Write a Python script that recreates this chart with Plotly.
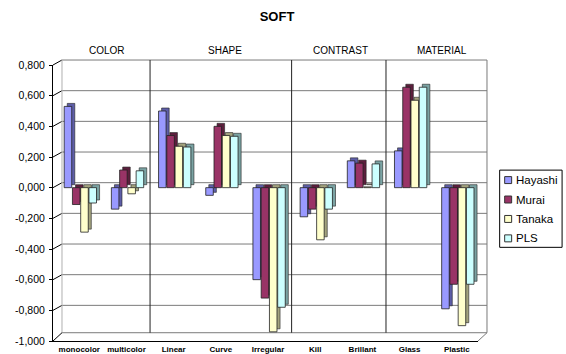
import plotly.graph_objects as go

# Category labels along the x axis and the groups they belong to
categories = ["monocolor", "multicolor", "Linear", "Curve", "Irregular",
              "Kill", "Brillant", "Glass", "Plastic"]
groups = ["COLOR", "SHAPE", "CONTRAST", "MATERIAL"]
group_centers = [0.5, 3.0, 5.5, 7.5]
group_dividers = [1.5, 4.5, 6.5]

# Series values
hayashi = [0.53, -0.14, 0.50, -0.05, -0.60, -0.19, 0.175, 0.24, -0.79]
murai = [-0.11, 0.115, 0.34, 0.40, -0.72, -0.14, 0.16, 0.655, -0.63]
tanaka = [-0.29, -0.04, 0.27, 0.34, -0.94, -0.34, 0.005, 0.57, -0.90]
pls = [-0.10, 0.11, 0.265, 0.335, -0.78, -0.14, 0.155, 0.655, -0.63]

series_names = ["Hayashi", "Murai", "Tanaka", "PLS"]
series_values = [hayashi, murai, tanaka, pls]
face_colors = ["#9999FF", "#993366", "#FFFFCC", "#CCFFFF"]
side_colors = ["#5E5EA8", "#5C1F3D", "#A3A37E", "#7AA3A3"]

# Y axis ticks
y_tickvals = [0.8, 0.6, 0.4, 0.2, 0.0, -0.2, -0.4, -0.6, -0.8, -1.0]
y_ticktext = ["0,800", "0,600", "0,400", "0,200", "0,000", "-0,200",
              "-0,400", "-0,600", "-0,800", "-1,000"]
Y_MIN, Y_MAX = -1.0, 0.8

# Figure geometry (front plane of the 3D box)
W, H = 566, 354
M_L, M_R, M_T, M_B = 52.7, 87.7, 64.5, 12.5
PW, PH = W - M_L - M_R, H - M_T - M_B
DEPTH_X, DEPTH_Y = 9.0, 5.0   # back wall offset in pixels


def fx(xp):
    return (xp - M_L) / PW


def fy(yp):
    return (H - M_B - yp) / PH


def ypix(v):
    return M_T + (Y_MAX - v) / (Y_MAX - Y_MIN) * PH


x = list(range(len(categories)))
bar_w = 0.16
pitch = 0.175
start = -0.32
depth_x = 0.065
depth_y = 0.0195

fig = go.Figure()
for k, (name, vals) in enumerate(zip(series_names, series_values)):
    off = start + k * pitch
    # darker depth face behind each column
    fig.add_trace(go.Bar(
        x=x, y=vals, base=depth_y, width=bar_w, offset=off + depth_x,
        marker=dict(color=side_colors[k], line=dict(color="#222222", width=0.6)),
        showlegend=False, hoverinfo="skip"))
    fig.add_trace(go.Bar(
        x=x, y=vals, name=name, width=bar_w, offset=off, showlegend=False,
        marker=dict(color=face_colors[k], line=dict(color="#222222", width=0.8))))

shapes = []
grid = dict(color="#7a7a7a", width=1)
back_l, back_r = M_L + DEPTH_X, M_L + PW + DEPTH_X
back_floor = ypix(Y_MIN) - 8.3
# back-wall gridlines and the wall's side connectors
for v in y_tickvals:
    yb = ypix(v) - DEPTH_Y
    if v > Y_MIN:
        shapes.append(dict(type="line", xref="paper", yref="paper", layer="below",
                           x0=fx(back_l), x1=fx(back_r), y0=fy(yb), y1=fy(yb), line=grid))
        shapes.append(dict(type="line", xref="paper", yref="paper", layer="below",
                           x0=fx(M_L), x1=fx(back_l), y0=fy(ypix(v)), y1=fy(yb),
                           line=dict(color="#000", width=1)))
# back wall edges and floor
shapes.append(dict(type="line", xref="paper", yref="paper", layer="below",
                   x0=fx(back_l), x1=fx(back_l), y0=fy(ypix(Y_MAX) - DEPTH_Y), y1=fy(back_floor),
                   line=dict(color="#b0b0b0", width=1)))
shapes.append(dict(type="line", xref="paper", yref="paper", layer="below",
                   x0=fx(back_r), x1=fx(back_r), y0=fy(ypix(Y_MAX) - DEPTH_Y), y1=fy(back_floor),
                   line=grid))
shapes.append(dict(type="line", xref="paper", yref="paper", layer="below",
                   x0=fx(back_l), x1=fx(back_r), y0=fy(back_floor), y1=fy(back_floor), line=grid))
shapes.append(dict(type="line", xref="paper", yref="paper", layer="below",
                   x0=fx(M_L), x1=fx(back_l), y0=0, y1=fy(back_floor),
                   line=dict(color="#000", width=1)))
shapes.append(dict(type="line", xref="paper", yref="paper", layer="below",
                   x0=1, x1=fx(back_r), y0=0, y1=fy(back_floor), line=grid))
# group dividers on the back wall
for d in group_dividers:
    shapes.append(dict(type="line", xref="x", yref="paper", x0=d, x1=d, layer="below",
                       y0=fy(back_floor), y1=fy(ypix(Y_MAX) - DEPTH_Y),
                       line=dict(color="#222222", width=1)))

annotations = []
header_shift = [4, 4, 2, 9]
for g, c, s in zip(groups, group_centers, header_shift):
    annotations.append(dict(text=g, x=c, xref="x", xshift=s, y=fy(57), yref="paper",
                            yanchor="bottom", showarrow=False,
                            font=dict(family="Liberation Sans, Arial", size=10, color="#000")))

# legend box with colour keys
shapes.append(dict(type="rect", xref="paper", yref="paper",
                   x0=fx(500), x1=fx(562.5), y0=fy(247.5), y1=fy(170),
                   line=dict(color="#000", width=1), fillcolor="white", layer="above"))
legend_rows = [180, 199.5, 219, 238.5]
for name, col, yr in zip(series_names, face_colors, legend_rows):
    shapes.append(dict(type="rect", xref="paper", yref="paper",
                       x0=fx(505), x1=fx(512), y0=fy(yr + 3.5), y1=fy(yr - 3.5),
                       line=dict(color="#333", width=1), fillcolor=col, layer="above"))
    annotations.append(dict(text=name, x=fx(514.5), y=fy(yr), xref="paper", yref="paper",
                            xanchor="left", yanchor="middle", showarrow=False,
                            font=dict(family="Liberation Sans, Arial", size=11.5, color="#000")))

fig.update_layout(
    width=W, height=H,
    margin=dict(l=M_L, r=M_R, t=M_T, b=M_B, autoexpand=False),
    paper_bgcolor="white", plot_bgcolor="white",
    barmode="overlay", showlegend=False,
    font=dict(family="Liberation Sans, Arial", color="#000"),
    title=dict(text="<b>SOFT</b>", x=277 / W, xref="container", xanchor="center",
               y=1 - 16 / H, yanchor="middle", yref="container",
               font=dict(size=13, family="Liberation Sans, Arial", color="#000")),
    xaxis=dict(range=[-0.557, 8.45], tickvals=x,
               ticktext=["<b>%s</b>" % c for c in categories],
               tickfont=dict(size=8), showgrid=False, showline=True,
               linecolor="#000", linewidth=1, ticks="", automargin=False,
               zeroline=False),
    yaxis=dict(range=[Y_MIN, Y_MAX], tickvals=y_tickvals, ticktext=y_ticktext,
               tickfont=dict(size=10.5), showgrid=False, zeroline=False,
               showline=True, linecolor="#000", linewidth=1, ticks="outside",
               ticklen=3, tickcolor="#000", ticklabelstandoff=2, automargin=False),
    shapes=shapes,
    annotations=annotations,
)

fig.write_html("out.html")
